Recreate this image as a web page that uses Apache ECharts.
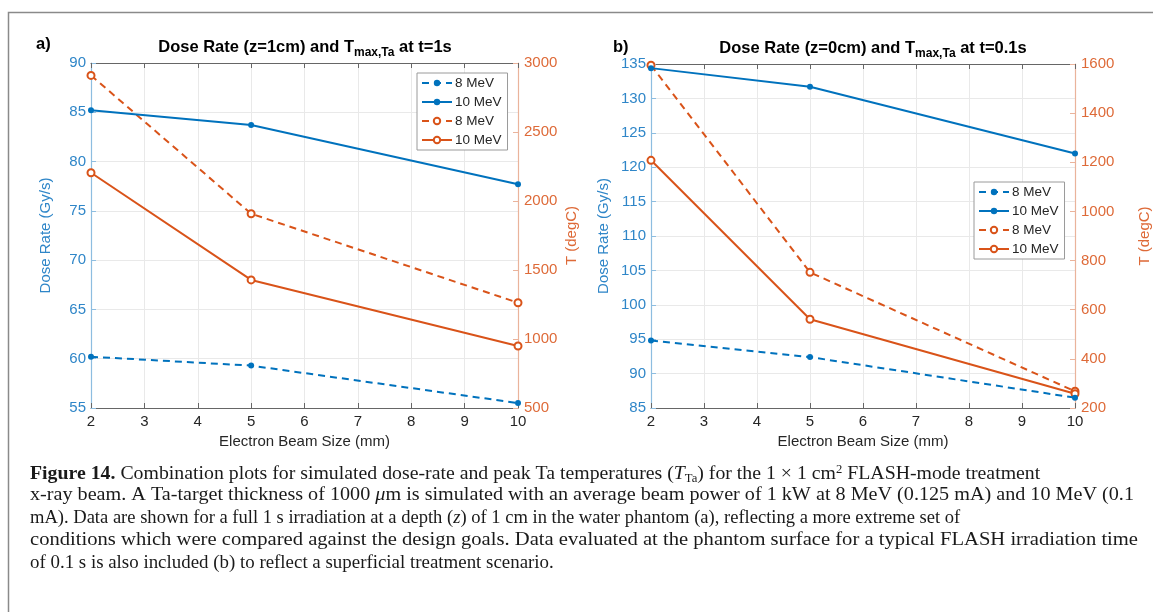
<!DOCTYPE html>
<html>
<head>
<meta charset="utf-8">
<script src="https://cdn.jsdelivr.net/npm/echarts@6/dist/echarts.min.js"></script>
<style>
  html, body { margin: 0; padding: 0; background: #fff; }
  #chart { width: 1153px; height: 612px; }
</style>
</head>
<body>
<div id="chart"></div>
<script>
// beam size (mm)
const beamSizes = [2, 5, 10]
const xTicks = [2, 3, 4, 5, 6, 7, 8, 9, 10]

// panel a) z=1cm, t=1s
const doseA8 = [60.2, 59.3, 55.5]
const doseA10 = [85.2, 83.7, 77.7]
const tempA8 = [2910, 1908, 1263]
const tempA10 = [2205, 1428, 949]
const doseTicksA = [55, 60, 65, 70, 75, 80, 85, 90]
const tempTicksA = [500, 1000, 1500, 2000, 2500, 3000]

// panel b) z=0cm, t=0.1s
const doseB8 = [94.8, 92.4, 86.5]
const doseB10 = [134.4, 131.7, 122.0]
const tempB8 = [1595, 752, 268]
const tempB10 = [1208, 561, 258]
const doseTicksB = [85, 90, 95, 100, 105, 110, 115, 120, 125, 130, 135]
const tempTicksB = [200, 400, 600, 800, 1000, 1200, 1400, 1600]

const legendLabels = ['8 MeV', '10 MeV', '8 MeV', '10 MeV']

const BLUE = '#0072BD'
const ORANGE = '#D95319'
const BLUE_TXT = '#2f86c8'
const ORANGE_TXT = '#de6a38'
const FONT = 'Liberation Sans'
const SERIF = 'Liberation Serif'

const pairs = (vals) => beamSizes.map((x, i) => [x, vals[i]])

const chart = echarts.init(document.getElementById('chart'))

const grids = [
  { left: 91, top: 63, width: 427, height: 345 },
  { left: 651, top: 64, width: 426, height: 344 }
]

const makeX = (g) => [
  {
    type: 'value', gridIndex: g, min: xTicks[0], max: xTicks[xTicks.length - 1], interval: 1,
    name: 'Electron Beam Size (mm)', nameLocation: 'middle', nameGap: 25,
    nameTextStyle: { color: '#262626', fontSize: 15, fontFamily: FONT },
    axisLine: { lineStyle: { color: '#666', width: 1 } },
    axisTick: { inside: true, length: 5, lineStyle: { color: '#666' } },
    axisLabel: { color: '#262626', fontSize: 15, fontFamily: FONT, margin: 6 },
    splitLine: { show: true, lineStyle: { color: '#e9e9e9' } }
  },
  {
    type: 'value', gridIndex: g, position: 'top', min: xTicks[0], max: xTicks[xTicks.length - 1], interval: 1,
    axisLine: { lineStyle: { color: '#666', width: 1 } },
    axisTick: { inside: true, length: 5, lineStyle: { color: '#666' } },
    axisLabel: { show: false },
    splitLine: { show: false }
  }
]

const makeY = (g, doseTicks, tempTicks, leftGap, rightGap) => [
  {
    type: 'value', gridIndex: g, position: 'left',
    min: doseTicks[0], max: doseTicks[doseTicks.length - 1], interval: doseTicks[1] - doseTicks[0],
    name: 'Dose Rate (Gy/s)', nameLocation: 'middle', nameGap: leftGap,
    nameTextStyle: { color: BLUE_TXT, fontSize: 15, fontFamily: FONT },
    axisLine: { show: true, lineStyle: { color: '#8dbde0', width: 1.2 } },
    axisTick: { show: true, inside: true, length: 5, lineStyle: { color: '#8dbde0' } },
    axisLabel: { color: BLUE_TXT, fontSize: 15, fontFamily: FONT, margin: 5 },
    splitLine: { show: true, lineStyle: { color: '#e9e9e9' } }
  },
  {
    type: 'value', gridIndex: g, position: 'right',
    min: tempTicks[0], max: tempTicks[tempTicks.length - 1], interval: tempTicks[1] - tempTicks[0],
    name: 'T (degC)', nameLocation: 'middle', nameGap: rightGap, nameRotate: 90,
    nameTextStyle: { color: ORANGE_TXT, fontSize: 15, fontFamily: FONT },
    axisLine: { show: true, lineStyle: { color: '#eab39b', width: 1.2 } },
    axisTick: { show: true, inside: true, length: 5, lineStyle: { color: '#eab39b' } },
    axisLabel: { color: ORANGE_TXT, fontSize: 15, fontFamily: FONT, margin: 6, formatter: (v) => String(v) },
    splitLine: { show: false }
  }
]

const lineSeries = (name, vals, xIdx, yIdx, color, dashed, open) => ({
  name: name,
  type: 'line',
  xAxisIndex: xIdx,
  yAxisIndex: yIdx,
  data: pairs(vals),
  symbol: open ? 'emptyCircle' : 'circle',
  symbolSize: open ? 7 : 6,
  showAllSymbol: true,
  lineStyle: { color: color, width: 2, type: dashed ? [7, 5] : 'solid' },
  itemStyle: { color: color, borderColor: color, borderWidth: open ? 1.3 : 0 },
  animation: false,
  z: open ? 3 : 4
})

const namesA = ['a8d', 'a10d', 'a8t', 'a10t']
const namesB = ['b8d', 'b10d', 'b8t', 'b10t']
const labelOf = (n) => legendLabels[namesA.concat(namesB).indexOf(n) % 4]

const legendBase = {
  orient: 'vertical',
  itemWidth: 30,
  itemHeight: 8,
  itemGap: 5,
  padding: [3, 6, 3, 4],
  borderColor: '#9a9a9a',
  borderWidth: 1,
  borderRadius: 0,
  backgroundColor: '#fff',
  textStyle: { color: '#262626', fontSize: 13.5, fontFamily: FONT, padding: [0, 0, 0, -2] },
  formatter: labelOf,
  selectedMode: false
}

// caption lines; each gets its own horizontal stretch to fit the original line length
const captionLines = [
  '{b|Figure 14.} Combination plots for simulated dose-rate and peak Ta temperatures ({i|T}{s|Ta}) for the 1 × 1 cm{p|2} FLASH-mode treatment',
  'x-ray beam. A Ta-target thickness of 1000 {i|μ}m is simulated with an average beam power of 1 kW at 8 MeV (0.125 mA) and 10 MeV (0.1',
  'mA). Data are shown for a full 1 s irradiation at a depth ({i|z}) of 1 cm in the water phantom (a), reflecting a more extreme set of',
  'conditions which were compared against the design goals. Data evaluated at the phantom surface for a typical FLASH irradiation time',
  'of 0.1 s is also included (b) to reflect a superficial treatment scenario.'
]
const captionStretch = [1.10, 1.12, 1.03, 1.145, 1.05]

const captionRich = {
  b: { fontSize: 18, fontWeight: 'bold', fontFamily: SERIF, fill: '#1a1a1a' },
  i: { fontSize: 18, fontStyle: 'italic', fontFamily: SERIF, fill: '#1a1a1a' },
  s: { fontSize: 11.5, fontFamily: SERIF, fill: '#1a1a1a', padding: [9, 0, 0, 0] },
  p: { fontSize: 11.5, fontFamily: SERIF, fill: '#1a1a1a', padding: [0, 0, 9, 0] }
}

const captionGraphics = captionLines.map((line, i) => ({
  type: 'text',
  x: 30,
  y: 464 + i * 22.5,
  scaleX: captionStretch[i],
  silent: true,
  style: {
    text: line,
    fontSize: 18,
    fontFamily: SERIF,
    fill: '#1a1a1a',
    verticalAlign: 'top',
    rich: captionRich
  }
}))

const titleStyle = {
  color: '#000', fontSize: 16.5, fontWeight: 'bold', fontFamily: FONT,
  rich: { sub: { fontSize: 12, fontWeight: 'bold', fontFamily: FONT, color: '#000', padding: [12, 0, 0, 0] } }
}

const option = {
  backgroundColor: '#fff',
  animation: false,
  grid: grids,
  title: [
    { text: 'Dose Rate (z=1cm) and T{sub|max,Ta} at t=1s', left: 300, top: 30, textAlign: 'center', textStyle: titleStyle },
    { text: 'Dose Rate (z=0cm) and T{sub|max,Ta} at t=0.1s', left: 868, top: 31, textAlign: 'center', textStyle: titleStyle }
  ],
  legend: [
    Object.assign({}, legendBase, { left: 417, top: 73, data: namesA }),
    Object.assign({}, legendBase, { left: 974, top: 182, data: namesB })
  ],
  xAxis: makeX(0).concat(makeX(1)),
  yAxis: makeY(0, doseTicksA, tempTicksA, 38, 46).concat(makeY(1, doseTicksB, tempTicksB, 40, 62)),
  series: [
    lineSeries('a8d', doseA8, 0, 0, BLUE, true, false),
    lineSeries('a10d', doseA10, 0, 0, BLUE, false, false),
    lineSeries('a8t', tempA8, 0, 1, ORANGE, true, true),
    lineSeries('a10t', tempA10, 0, 1, ORANGE, false, true),
    lineSeries('b8d', doseB8, 2, 2, BLUE, true, false),
    lineSeries('b10d', doseB10, 2, 2, BLUE, false, false),
    lineSeries('b8t', tempB8, 2, 3, ORANGE, true, true),
    lineSeries('b10t', tempB10, 2, 3, ORANGE, false, true)
  ],
  graphic: [
    {
      type: 'rect', silent: true,
      shape: { x: 8.5, y: 12.5, width: 1300, height: 800 },
      style: { fill: 'none', stroke: '#8a8a8a', lineWidth: 1.5 }
    },
    { type: 'text', left: 36, top: 36, style: { text: 'a)', fontSize: 16.5, fontWeight: 'bold', fontFamily: FONT, fill: '#000' } },
    { type: 'text', left: 613, top: 39, style: { text: 'b)', fontSize: 16.5, fontWeight: 'bold', fontFamily: FONT, fill: '#000' } }
  ].concat(captionGraphics)
}

chart.setOption(option)
</script>
</body>
</html>
